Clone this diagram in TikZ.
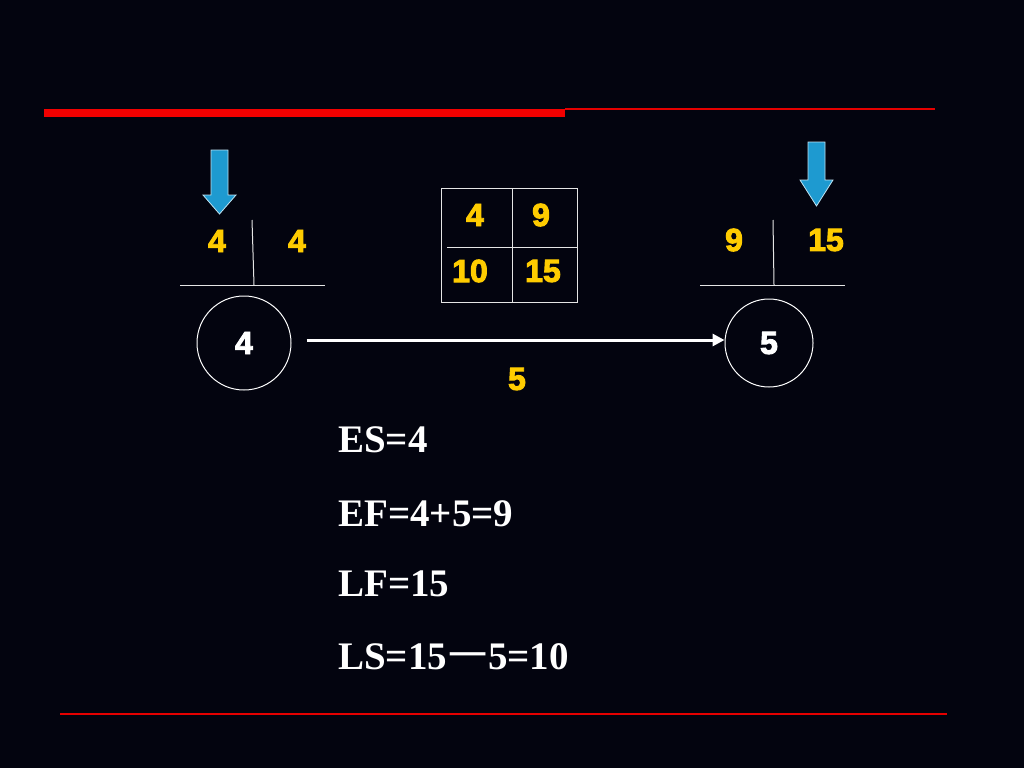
\documentclass[tikz,border=0pt]{standalone}
\usepackage{fontspec}
\setmainfont{Liberation Serif}
\setsansfont{Liberation Sans}
\newfontfamily\cjk{Noto Sans CJK SC}
\newfontfamily\numfont[FakeBold=3]{Liberation Sans Bold}
\usetikzlibrary{arrows.meta}
\definecolor{bg}{HTML}{03040F}
\definecolor{numyellow}{HTML}{FFCC00}
\definecolor{arrowblue}{HTML}{1E9AD0}
\definecolor{arrowedge}{HTML}{BFE3F2}
\begin{document}
\begin{tikzpicture}[x=1pt,y=-1pt,
  num/.style={text=numyellow,font=\numfont\fontsize{32}{32}\selectfont,inner sep=0pt},
  evt/.style={circle,draw=white,line width=1pt,minimum size=94pt,inner sep=0pt,text=white,font=\numfont\fontsize{32}{32}\selectfont},
  formula/.style={anchor=west,text=white,font=\bfseries\fontsize{39}{39}\selectfont,inner sep=0pt},
  thinw/.style={draw=white!80!gray,line width=1pt},
  bluearrow/.style={fill=arrowblue,draw=arrowedge,line width=0.8pt}]
\useasboundingbox[fill=bg] (0,0) rectangle (1024,768);
% red lines
\fill[red!95!black] (44,109) rectangle (565,117);
\draw[red!90!black,line width=1.5pt] (565,109) -- (935,109);
\draw[red!90!black,line width=1.5pt] (60,714) -- (947,714);
% nodes
\node[evt] (n4) at (244,343) {4};
\node[evt,minimum size=88pt] (n5) at (769,343) {5};
\draw[white,line width=3pt,-{Triangle[length=12pt,width=12pt]}] (n4.east)++(15,-3) coordinate (s) -- (s -| n5.west) coordinate (e);
\node[num] (dur) at (517,379) {5};
% left time marks
\coordinate (lh1) at (180,285); \coordinate (lh2) at (325,285);
\coordinate (lv1) at (252,220); \coordinate (lv2) at (254,285);
\draw[thinw] (lh1) -- (lh2);
\draw[thinw] (lv1) -- (lv2);
\node[num] (les) at (217,241) {4};
\node[num] (lls) at (297,241) {4};
\draw[bluearrow] (211,150) -- (228,150) -- (228,195) -- (236,195) -- (219.5,214) -- (203,195) -- (211,195) -- cycle;
% right time marks
\coordinate (rh1) at (700,285); \coordinate (rh2) at (845,285);
\coordinate (rv1) at (773,220); \coordinate (rv2) at (774,285);
\draw[thinw] (rh1) -- (rh2);
\draw[thinw] (rv1) -- (rv2);
\node[num] (ref) at (734,240) {9};
\node[num] (rlf) at (826,240) {15};
\draw[bluearrow] (808,142) -- (825,142) -- (825,180) -- (833,180) -- (816.5,206) -- (800,180) -- (808,180) -- cycle;
% box
\draw[thinw] (441,188) rectangle (577,302);
\draw[thinw] (512,188) -- (512,302);
\draw[thinw] (447,247) -- (577,247);
\node[num] (bes) at (475,215) {4};
\node[num] (bef) at (541,215) {9};
\node[num] (bls) at (470,271) {10};
\node[num] (blf) at (543,271) {15};
% formulas
\node[formula] (f1) at (338,440) {ES=4};
\node[formula] (f2) at (338,514) {EF=4+5=9};
\node[formula] (f3) at (338,584) {LF=15};
\node[formula] (f4) at (338,657) {LS=15\kern1pt{\cjk\mdseries 一}\kern1pt 5=10};
\end{tikzpicture}
\end{document}
